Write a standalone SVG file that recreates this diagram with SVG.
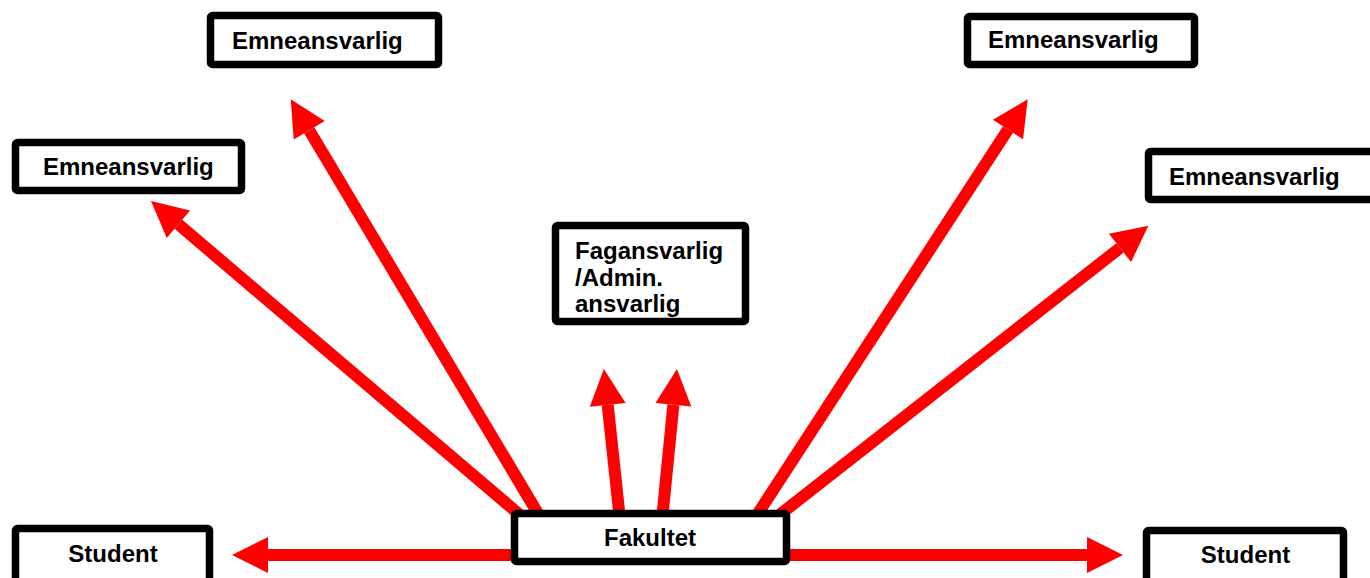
<svg xmlns="http://www.w3.org/2000/svg" width="1370" height="578" viewBox="0 0 1370 578">
<style>
.box{fill:#fff;stroke:#000;stroke-width:7.5;}
.lbl{font-family:"Liberation Sans",Arial,sans-serif;font-weight:bold;fill:#000;}
.em{font-size:24px;}
.big{font-size:24px;}
.arr{stroke:#ff0000;stroke-width:12;fill:none;marker-end:url(#head);}
</style>
<defs>
<marker id="head" markerUnits="userSpaceOnUse" markerWidth="36" markerHeight="36" viewBox="0 0 36 36" refX="0" refY="18" orient="auto" overflow="visible">
<path d="M0,0 L36,18 L0,36 Z" fill="#ff0000"/>
</marker>
</defs>
<g id="connectors">
<line class="arr" x1="520" y1="555" x2="268" y2="555"/>
<line class="arr" x1="780" y1="555" x2="1087" y2="555"/>
<line class="arr" x1="620" y1="520" x2="607.7" y2="404.8"/>
<line class="arr" x1="662" y1="520" x2="673.4" y2="404.8"/>
<line class="arr" x1="541" y1="518.6" x2="309.2" y2="130.2"/>
<line class="arr" x1="520" y1="515" x2="178.4" y2="224.3"/>
<line class="arr" x1="755" y1="518" x2="1008" y2="129.5"/>
<line class="arr" x1="780" y1="514.5" x2="1120" y2="247.9"/>
</g>
<g id="emne-top-left">
<rect class="box" x="210.5" y="15.5" width="228" height="49" rx="2"/>
<text class="lbl em" x="232" y="49">Emneansvarlig</text>
</g>
<g id="emne-left">
<rect class="box" x="15.5" y="142.5" width="226" height="48" rx="2"/>
<text class="lbl em" x="43" y="175">Emneansvarlig</text>
</g>
<g id="emne-top-right">
<rect class="box" x="967.5" y="16.5" width="227" height="48" rx="2"/>
<text class="lbl em" x="988" y="48">Emneansvarlig</text>
</g>
<g id="emne-right">
<rect class="box" x="1148.5" y="151.5" width="240" height="48" rx="2"/>
<text class="lbl em" x="1169" y="185">Emneansvarlig</text>
</g>
<g id="fagansvarlig">
<rect class="box" x="555.5" y="225.5" width="190" height="96" rx="2"/>
<text class="lbl big" x="575" y="258.5">Fagansvarlig</text>
<text class="lbl big" x="575" y="286">/Admin.</text>
<text class="lbl big" x="575" y="312">ansvarlig</text>
</g>
<g id="fakultet">
<rect class="box" x="514.5" y="513.5" width="272" height="48" rx="2"/>
<text class="lbl big" x="650" y="545.5" text-anchor="middle">Fakultet</text>
</g>
<g id="student-left">
<rect class="box" x="15.5" y="528.5" width="194" height="60" rx="2"/>
<text class="lbl big" x="113" y="561.5" text-anchor="middle">Student</text>
</g>
<g id="student-right">
<rect class="box" x="1146.5" y="530.5" width="197" height="60" rx="2"/>
<text class="lbl big" x="1245.5" y="562.5" text-anchor="middle">Student</text>
</g>
</svg>
